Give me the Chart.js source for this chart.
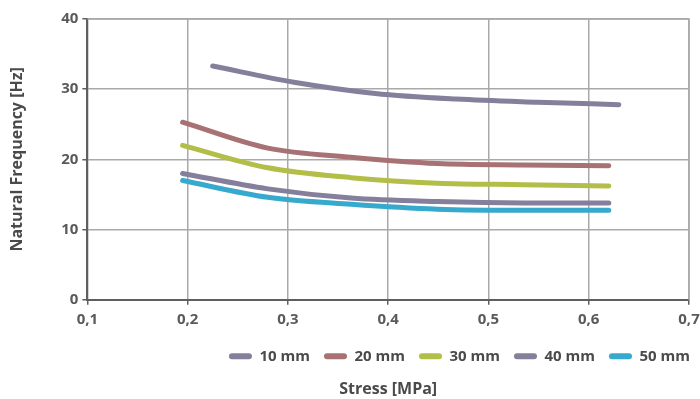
<!DOCTYPE html>
<html>
<head>
<meta charset="utf-8">
<script src="https://cdn.jsdelivr.net/npm/chart.js@4"></script>
<style>
    html, body { margin: 0; padding: 0; background: #fff; }
    #wrap { width: 700px; height: 399px; }
</style>
</head>
<body>
<div id="wrap"><canvas id="chart" width="700" height="399"></canvas></div>
<script>
// stress values (MPa)
const stress10 = [0.225, 0.306, 0.387, 0.468, 0.549, 0.63];
const stressOther = [0.195, 0.28, 0.363, 0.449, 0.535, 0.62];

// natural frequency (Hz)
const freq10 = [33.3, 31.0, 29.4, 28.6, 28.15, 27.8];
const freq20 = [25.3, 21.6, 20.3, 19.4, 19.2, 19.1];
const freq30 = [22.0, 18.8, 17.4, 16.6, 16.4, 16.2];
const freq40 = [18.0, 15.8, 14.5, 14.0, 13.8, 13.8];
const freq50 = [17.0, 14.6, 13.6, 12.9, 12.75, 12.75];

const seriesNames = ['10 mm', '20 mm', '30 mm', '40 mm', '50 mm'];
const seriesColors = ['#857f9c', '#a87274', '#b2be48', '#857f9c', '#37a9cd'];

const xTicks = [0.1, 0.2, 0.3, 0.4, 0.5, 0.6, 0.7];
const yTicks = [0, 10, 20, 30, 40];

function toPoints(xs, ys) {
    return xs.map((x, i) => ({ x: x, y: ys[i] }));
}

const seriesData = [
    toPoints(stress10, freq10),
    toPoints(stressOther, freq20),
    toPoints(stressOther, freq30),
    toPoints(stressOther, freq40),
    toPoints(stressOther, freq50)
];

const tickFont = { family: '"Open Sans", "Noto Sans", sans-serif', size: 15, weight: 'bold' };
const titleFont = { family: '"Open Sans", "Noto Sans", sans-serif', size: 16, weight: 'bold' };
const legendFont = { family: '"Open Sans", "Noto Sans", sans-serif', size: 15, weight: 'bold' };
const gridColor = '#a9a9a9';
const axisColor = '#5f5f5f';

new Chart(document.getElementById('chart'), {
    type: 'line',
    data: {
        datasets: seriesData.map((pts, i) => ({
            label: seriesNames[i],
            data: pts,
            borderColor: seriesColors[i],
            backgroundColor: seriesColors[i],
            borderWidth: 5,
            borderCapStyle: 'round',
            pointRadius: 0,
            cubicInterpolationMode: 'monotone',
            fill: false
        }))
    },
    options: {
        responsive: false,
        animation: false,
        layout: { padding: { left: 8, right: 0, top: 19, bottom: 0 } },
        scales: {
            x: {
                type: 'linear',
                min: 0.1,
                max: 0.7,
                afterBuildTicks: axis => { axis.ticks = xTicks.map(v => ({ value: v })); },
                // let the last label run to the canvas edge, as in the original
                afterFit: axis => { axis.paddingRight = 11; },
                ticks: {
                    color: '#5a5a5a',
                    font: tickFont,
                    padding: 6,
                    callback: v => v.toFixed(1).replace('.', ',')
                },
                grid: { color: gridColor, lineWidth: 1.5, tickLength: 5, tickColor: axisColor },
                border: { color: axisColor, width: 2 }
            },
            y: {
                min: 0,
                max: 40,
                afterBuildTicks: axis => { axis.ticks = yTicks.map(v => ({ value: v })); },
                ticks: { color: '#5a5a5a', font: tickFont, padding: 4 },
                grid: { color: gridColor, lineWidth: 1.5, tickLength: 5, tickColor: axisColor },
                border: { color: axisColor, width: 2 },
                title: {
                    display: true,
                    text: 'Natural Frequency [Hz]',
                    color: '#4a4a4a',
                    font: titleFont,
                    padding: { top: 0, bottom: 30 }
                }
            }
        },
        plugins: {
            legend: {
                position: 'bottom',
                align: 'end',
                fullSize: false,
                labels: {
                    color: '#4a4a4a',
                    font: legendFont,
                    boxWidth: 23,
                    boxHeight: 6,
                    useBorderRadius: true,
                    borderRadius: 3,
                    padding: 14,
                    generateLabels: chart => Chart.defaults.plugins.legend.labels.generateLabels(chart)
                        .map(item => Object.assign(item, { lineWidth: 0 }))
                }
            },
            title: {
                display: true,
                position: 'bottom',
                fullSize: false,
                text: 'Stress [MPa]',
                color: '#4a4a4a',
                font: titleFont,
                padding: { top: 6, bottom: 0 }
            },
            tooltip: { enabled: false }
        }
    },
    plugins: [{
        // push the legend flush with the right edge, like the original
        id: 'legendShift',
        afterLayout(chart) {
            const lg = chart.legend;
            const shift = chart.width - 10 - lg.right + 14;
            lg.left += shift;
            lg.right += shift;
        }
    }, {
        // grey frame on the top and right sides
        id: 'frame',
        afterDraw(chart) {
            const a = chart.chartArea;
            const ctx = chart.ctx;
            ctx.save();
            ctx.strokeStyle = gridColor;
            ctx.lineWidth = 1.5;
            ctx.beginPath();
            ctx.moveTo(a.left, a.top);
            ctx.lineTo(a.right, a.top);
            ctx.lineTo(a.right, a.bottom);
            ctx.stroke();
            ctx.restore();
        }
    }]
});
</script>
</body>
</html>
